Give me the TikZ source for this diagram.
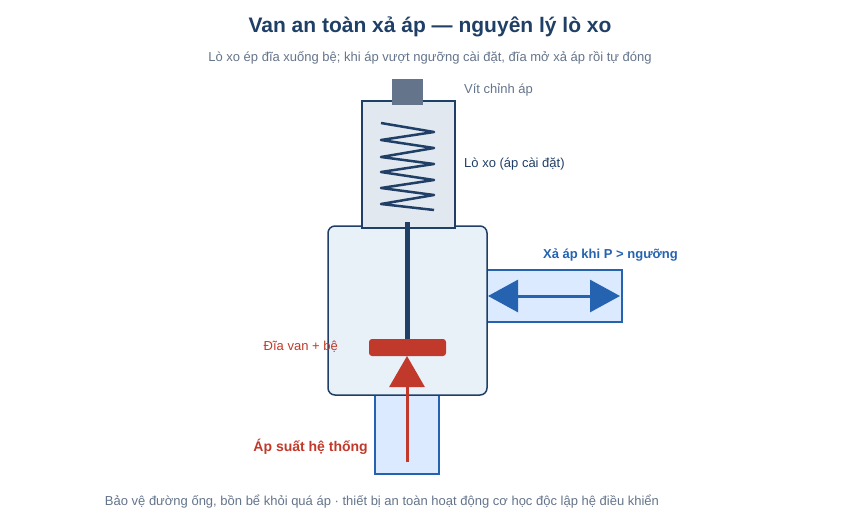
\documentclass[tikz,border=0pt]{standalone}
\usepackage{fontspec}
\setmainfont{Liberation Sans}
\usetikzlibrary{arrows.meta}
\definecolor{navy}{HTML}{1F3F66}
\definecolor{slate}{HTML}{64748B}
\definecolor{valvered}{HTML}{C0392B}
\definecolor{pipeblue}{HTML}{2563B0}
\definecolor{pipefill}{HTML}{DBEAFE}
\definecolor{bodyfill}{HTML}{E8F0F8}
\definecolor{caseFill}{HTML}{E2E8F0}
\begin{document}
\begin{tikzpicture}[x=1pt, y=-1pt,
    part/.style ={draw=navy, line width=1.5pt},
    pipe/.style ={draw=pipeblue, fill=pipefill, line width=1.5pt},
    lbl/.style ={font=\fontsize{13}{15}\selectfont, inner sep=0pt}]
    \useasboundingbox (0,0) rectangle (860,531);
    \node[font=\fontsize{21}{25}\bfseries\selectfont, text=navy] (title) at (430,27) {Van an toàn xả áp — nguyên lý lò xo};
    \node[lbl, text=slate] (sub) at (430,58) {Lò xo ép đĩa xuống bệ; khi áp vượt ngưỡng cài đặt, đĩa mở xả áp rồi tự đóng};
    % housing and pipes
    \draw[pipe] (375,395) rectangle (439,474);
    \draw[pipe] (487,270) rectangle (622,322);
    \draw[part, fill=bodyfill, rounded corners=7pt] (328,226) rectangle (487,395);
    \draw[part, fill=caseFill] (362,101) rectangle (455,228);
    \fill[slate] (392,79) rectangle (423,105);
    % spring
    \draw[navy, line width=2.5pt, line join=round]
        (381,123) -- (434,132) -- (381,140) -- (434,148) -- (381,157) -- (434,164)
        -- (381,172) -- (434,180) -- (381,188) -- (434,195) -- (381,204) -- (434,210);
    \coordinate (stemtop) at (407,222);
    \coordinate (stembot) at (407,340);
    \draw[navy, line width=5pt] (stemtop) -- (stembot);
    \fill[valvered, rounded corners=3pt] (369,339) rectangle (446,356);
    % flows
    \coordinate (inlet) at (407,462);
    \coordinate (seat) at (407,356);
    \draw[valvered, line width=3pt, -{Triangle[length=31pt, width=35pt]}] (inlet) -- (seat);
    \coordinate (outL) at (488,296);
    \coordinate (outR) at (620,296);
    \draw[pipeblue, line width=3pt, {Triangle[length=30pt, width=32pt]}-{Triangle[length=30pt, width=32pt]}] (outL) -- (outR);
    % labels
    \node[lbl, anchor=west, text=slate] (screw) at (464,90) {Vít chỉnh áp};
    \node[lbl, anchor=west, text=navy] (spring) at (464,164) {Lò xo (áp cài đặt)};
    \node[lbl, anchor=west, text=pipeblue, font=\fontsize{13}{15}\bfseries\selectfont] (vent) at (543,255) {Xả áp khi P > ngưỡng};
    \node[lbl, anchor=east, text=valvered] (disc) at (338,347) {Đĩa van + bệ};
    \node[lbl, anchor=east, text=valvered, font=\fontsize{14}{16}\bfseries\selectfont] (press) at (368,447) {Áp suất hệ thống};
    \node[lbl, text=slate] (foot) at (382,502) {Bảo vệ đường ống, bồn bể khỏi quá áp · thiết bị an toàn hoạt động cơ học độc lập hệ điều khiển};
\end{tikzpicture}
\end{document}
